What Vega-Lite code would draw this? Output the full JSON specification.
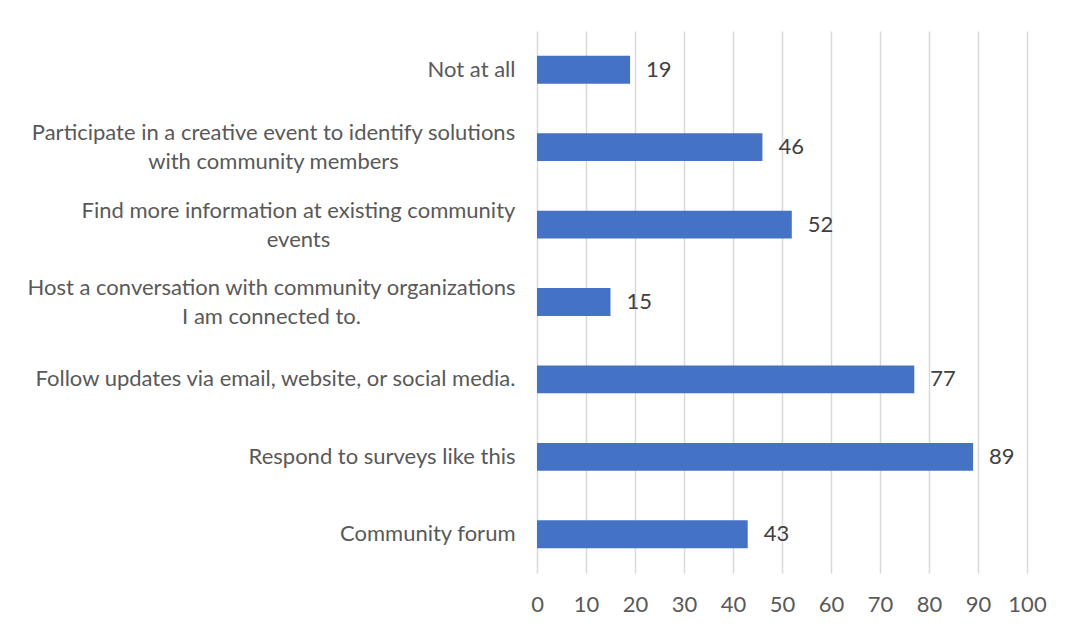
{
  "$schema": "https://vega.github.io/schema/vega-lite/v6.json",
  "autosize": {"type": "none"},
  "width": 490,
  "height": 542,
  "padding": {"left": 537, "top": 31, "right": 48, "bottom": 62},
  "background": "white",
  "config": {"view": {"stroke": null}, "font": "Lato"},
  "data": {
    "values": [
      {"category": "Not at all", "count": 19},
      {"category": "Participate in a creative event to identify solutions with community members", "count": 46},
      {"category": "Find more information at existing community events", "count": 52},
      {"category": "Host a conversation with community organizations I am connected to.", "count": 15},
      {"category": "Follow updates via email, website, or social media.", "count": 77},
      {"category": "Respond to surveys like this", "count": 89},
      {"category": "Community forum", "count": 43}
    ]
  },
  "encoding": {
    "y": {
      "field": "category",
      "type": "nominal",
      "sort": null,
      "scale": {"paddingInner": 0.64, "paddingOuter": 0.32},
      "axis": {
        "title": null,
        "domain": false,
        "ticks": false,
        "labelFontSize": 22,
        "labelColor": "#595959",
        "labelLimit": 600,
        "labelLineHeight": 29,
        "labelExpr": "split(replace(replace(replace(datum.label, 'solutions ', 'solutions\\n'), 'community events', 'community\\nevents'), 'organizations ', 'organizations\\n'), '\\n')",
        "labelAlign": {
          "condition": {"test": "indexof(datum.value, 'Participate') == 0 || indexof(datum.value, 'Find') == 0 || indexof(datum.value, 'Host') == 0", "value": "center"},
          "value": "right"
        },
        "labelPadding": {
          "condition": [
            {"test": "indexof(datum.value, 'Participate') == 0", "value": 264},
            {"test": "indexof(datum.value, 'Find') == 0", "value": 239},
            {"test": "indexof(datum.value, 'Host') == 0", "value": 266}
          ],
          "value": 22
        },
        "labelOffset": {
          "condition": {"test": "indexof(datum.value, 'Participate') == 0 || indexof(datum.value, 'Find') == 0 || indexof(datum.value, 'Host') == 0", "value": -14},
          "value": 0
        }
      }
    },
    "x": {
      "field": "count",
      "type": "quantitative",
      "scale": {"domain": [0, 100]},
      "axis": {
        "title": null,
        "values": [0, 10, 20, 30, 40, 50, 60, 70, 80, 90, 100],
        "domain": false,
        "ticks": false,
        "grid": true,
        "gridColor": "#d9d9d9",
        "gridWidth": 1.5,
        "labelFontSize": 22,
        "labelColor": "#595959",
        "labelPadding": 21,
        "labelFlush": false
      }
    }
  },
  "layer": [
    {"mark": {"type": "bar", "color": "#4472C4"}},
    {
      "mark": {"type": "text", "align": "left", "baseline": "middle", "dx": 16, "fontSize": 22, "color": "#404040"},
      "encoding": {"text": {"field": "count", "type": "quantitative"}}
    }
  ]
}
